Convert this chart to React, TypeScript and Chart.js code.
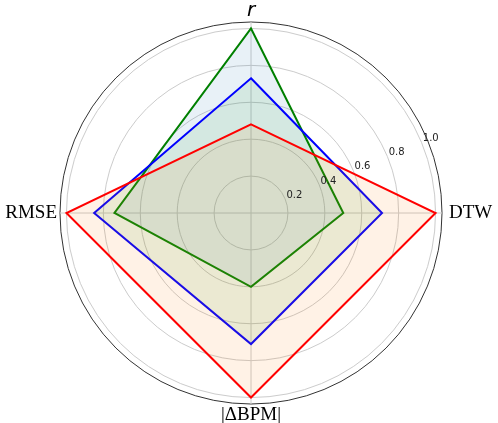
import React, { useEffect, useRef } from "react";
import { Chart, registerables } from "chart.js";

Chart.register(...registerables);

const CATEGORIES = ["r", "DTW", "|ΔBPM|", "RMSE"];
const GREEN_VALUES = [1.0, 0.5, 0.4, 0.74];
const BLUE_VALUES = [0.73, 0.71, 0.71, 0.85];
const RED_VALUES = [0.48, 1.0, 1.0, 1.0];
const TICK_VALUES = [0.2, 0.4, 0.6, 0.8, 1.0];
const TICK_LABELS = ["0.2", "0.4", "0.6", "0.8", "1.0"];
const R_MAX = 1.035;

const tickLabelPlugin = {
  id: "rTickLabels",
  afterDraw(chart: any) {
    const s = chart.scales.r;
    const ctx = chart.ctx;
    ctx.save();
    ctx.font = '10px "DejaVu Sans"';
    ctx.fillStyle = "#222";
    ctx.textAlign = "center";
    ctx.textBaseline = "middle";
    const ang = (-22.5 * Math.PI) / 180;
    TICK_VALUES.forEach((v, i) => {
      const d = s.getDistanceFromCenterForValue(v) + 10;
      ctx.fillText(TICK_LABELS[i], s.xCenter + d * Math.cos(ang), s.yCenter + d * Math.sin(ang));
    });
    ctx.restore();
  },
};

const bgPlugin = {
  id: "bg",
  beforeDraw(chart: any) {
    const ctx = chart.ctx;
    ctx.save();
    ctx.fillStyle = "#fff";
    ctx.fillRect(0, 0, chart.width, chart.height);
    ctx.restore();
  },
};

export default function App() {
  const ref = useRef<HTMLCanvasElement | null>(null);
  useEffect(() => {
    if (!ref.current) return;
    const chart = new Chart(ref.current, {
      type: "radar",
      data: {
        labels: CATEGORIES,
        datasets: [
          {
            data: RED_VALUES,
            borderColor: "#ff0000",
            backgroundColor: "rgba(255,127,14,0.1)",
            borderWidth: 2,
            fill: true,
            pointRadius: 0,
          },
          {
            data: BLUE_VALUES,
            borderColor: "#0000ff",
            backgroundColor: "rgba(44,160,44,0.1)",
            borderWidth: 2,
            fill: true,
            pointRadius: 0,
          },
          {
            data: GREEN_VALUES,
            borderColor: "#008000",
            backgroundColor: "rgba(31,119,180,0.1)",
            borderWidth: 2,
            fill: true,
            pointRadius: 0,
          },
        ],
      },
      options: {
        responsive: false,
        animation: false,
        layout: { padding: { top: 3, bottom: -1, left: 0, right: 0 } },
        elements: { line: { tension: 0 } },
        plugins: { legend: { display: false }, tooltip: { enabled: false } },
        scales: {
          r: {
            min: 0,
            max: R_MAX,
            afterBuildTicks: (scale: any) => {
              scale.ticks = [0, ...TICK_VALUES, R_MAX].map((v) => ({ value: v }));
            },
            ticks: { display: false },
            grid: {
              circular: true,
              color: (c: any) => (c.tick && c.tick.value === R_MAX ? "#333333" : "#cccccc"),
              lineWidth: 1,
            },
            angleLines: { color: "#cccccc", lineWidth: 1 },
            pointLabels: {
              padding: (c: any) => (c.index === 1 ? 7 : c.index === 3 ? 3 : 4),
              color: "#000",
              font: (c: any) =>
                c.index === 0
                  ? { family: "DejaVu Sans", style: "italic", size: 20, lineHeight: 0.75 }
                  : { family: "Liberation Serif", size: 19, lineHeight: 0.75 },
            },
          },
        },
      },
      plugins: [bgPlugin, tickLabelPlugin],
    } as any);
    return () => chart.destroy();
  }, []);
  return (
    <div style={{ position: "absolute", left: 0, top: 0, width: 498, height: 423, background: "#fff" }}>
      <canvas ref={ref} width={498} height={423} />
    </div>
  );
}
